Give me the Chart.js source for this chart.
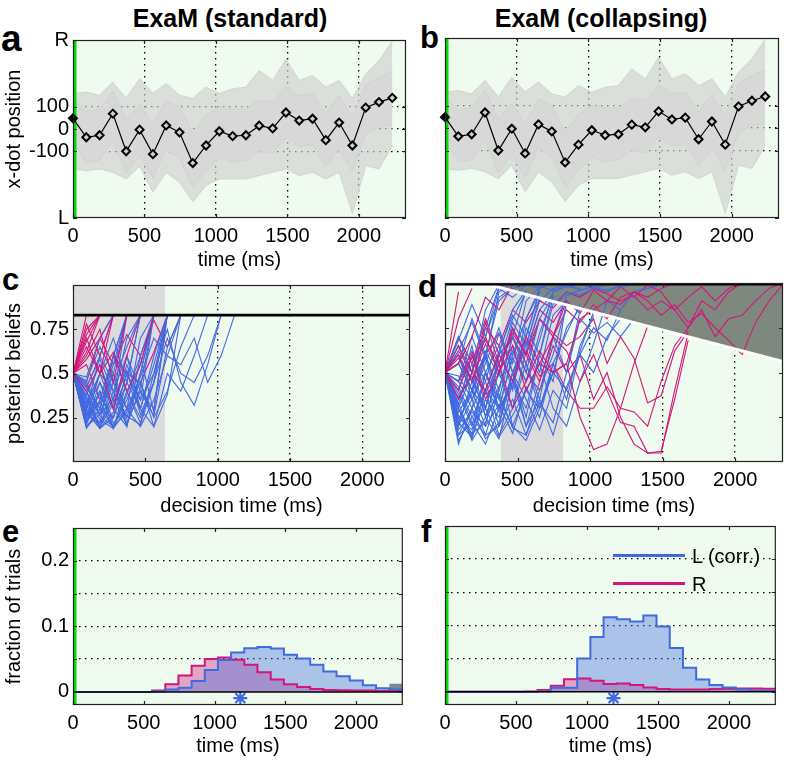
<!DOCTYPE html>
<html>
<head>
<meta charset="utf-8">
<script src="https://cdn.jsdelivr.net/npm/chart.js@4.4.1/dist/chart.umd.min.js"></script>
<style>
  body { margin: 0; background: #fff; width: 787px; height: 764px; position: relative; overflow: hidden;
         font-family: "Liberation Sans", Arial, sans-serif; color: #000; }
  canvas { position: absolute; }
  .ttl { position: absolute; width: 320px; text-align: center; font-weight: bold; font-size: 25px; line-height: 30px; }
  .lab { position: absolute; font-weight: bold; font-size: 31px; line-height: 32px; }
  .leg { position: absolute; font-size: 20px; line-height: 22px; }
  .legline { position: absolute; width: 72px; height: 0; border-top: 3px solid; }
</style>
</head>
<body>
<div class="ttl" style="left:70px;top:3px">ExaM (standard)</div>
<div class="ttl" style="left:441px;top:3px">ExaM (collapsing)</div>
<div class="lab" style="left:1px;top:20px;font-size:37px;line-height:37px">a</div>
<div class="lab" style="left:420px;top:22px">b</div>
<div class="lab" style="left:2px;top:264px">c</div>
<div class="lab" style="left:418px;top:271px">d</div>
<div class="lab" style="left:2px;top:516px">e</div>
<div class="lab" style="left:421px;top:516px">f</div>

<canvas id="ca" width="412" height="252" style="left:0;top:24px"></canvas>
<canvas id="cb" width="413" height="252" style="left:372px;top:24px"></canvas>
<canvas id="cc" width="412" height="253" style="left:0;top:269px"></canvas>
<canvas id="cd" width="413" height="253" style="left:372px;top:269px"></canvas>
<canvas id="ce" width="412" height="250" style="left:0;top:512px"></canvas>
<canvas id="cf" width="413" height="250" style="left:372px;top:512px"></canvas>

<div class="legline" style="left:613px;top:554px;border-color:#4169e1"></div>
<div class="leg" style="left:692px;top:545px">L (corr.)</div>
<div class="legline" style="left:613px;top:582px;border-color:#d4157a"></div>
<div class="leg" style="left:692px;top:573px">R</div>

<script>
// time grid (ms), one sample per frame
var TIMES = [0, 93, 186, 279, 372, 466, 559, 652, 745, 838, 931, 1024, 1117, 1210, 1303,
             1397, 1490, 1583, 1676, 1769, 1862, 1955, 2048, 2141, 2234, 2327];
var X_MAX = 2330;
var X_TICKS = [0, 500, 1000, 1500, 2000];

// panels a/b: x-dot position of the example trial and the spread of all trials
var MEAN_X = [48, -37, -28, 69, -100, -3, -113, 16, -15, -153, -74, -10, -32, -28, 15, 3, 74, 38, 46, -50, 29, -74, 96, 121, 140];
var OUTER_UP = [159, 166, 151, 210, 137, 225, 159, 203, 151, 137, 188, 159, 181, 188, 262, 218, 313, 218, 240, 188, 218, 137, 247, 306, 394];
var OUTER_LO = [-179, -187, -179, -194, -224, -165, -282, -194, -238, -326, -253, -224, -224, -224, -209, -194, -179, -209, -194, -224, -194, -378, -165, -179, -76];
var CORE_UP = [140, 80, 90, 170, 40, 110, 20, 130, 100, -20, 60, 100, 90, 90, 130, 120, 190, 150, 160, 70, 150, 50, 200, 230, 260];
var CORE_LO = [-60, -150, -140, -50, -200, -120, -220, -90, -130, -260, -190, -130, -150, -140, -100, -110, -40, -80, -70, -170, -90, -190, -20, 10, 20];
var A_YTICKS = [-400, -100, 0, 100, 400];

// panel c: standard bound
var BOUND_C = 0.83;
var GRAY_C = [0, 636];
var C_BLUE = [
  [0.5, 0.3, 0.22, 0.35, 0.83],
  [0.5, 0.25, 0.4, 0.19, 0.45, 0.83],
  [0.5, 0.42, 0.6, 0.83],
  [0.5, 0.2, 0.3, 0.25, 0.5, 0.35, 0.83],
  [0.5, 0.35, 0.19, 0.28, 0.6, 0.4, 0.3, 0.83],
  [0.5, 0.45, 0.3, 0.55, 0.83],
  [0.5, 0.22, 0.45, 0.3, 0.2, 0.5, 0.83],
  [0.5, 0.38, 0.55, 0.35, 0.7, 0.83],
  [0.5, 0.28, 0.19, 0.4, 0.26, 0.21, 0.45, 0.83],
  [0.5, 0.33, 0.5, 0.7, 0.45, 0.83],
  [0.5, 0.4, 0.26, 0.2, 0.38, 0.6, 0.28, 0.83],
  [0.5, 0.24, 0.35, 0.6, 0.83],
  [0.5, 0.3, 0.45, 0.22, 0.3, 0.2, 0.35, 0.6, 0.83],
  [0.5, 0.46, 0.65, 0.5, 0.83],
  [0.5, 0.2, 0.27, 0.5, 0.3, 0.7, 0.83],
  [0.5, 0.36, 0.24, 0.19, 0.3, 0.45, 0.25, 0.4, 0.65, 0.83],
  [0.5, 0.3, 0.5, 0.3, 0.55, 0.35, 0.5, 0.75, 0.45, 0.32, 0.55, 0.83],
  [0.5, 0.42, 0.3, 0.6, 0.4, 0.25, 0.45, 0.7, 0.5, 0.45, 0.6, 0.83],
  [0.5, 0.27, 0.38, 0.25, 0.5, 0.3, 0.2, 0.5, 0.4, 0.6, 0.83],
  [0.5, 0.35, 0.2, 0.45, 0.65, 0.83],
  [0.5, 0.44, 0.27, 0.36, 0.21, 0.42, 0.83],
  [0.5, 0.25, 0.5, 0.4, 0.6, 0.3, 0.6, 0.83],
  [0.5, 0.32, 0.22, 0.6, 0.83],
  [0.5, 0.48, 0.7, 0.83],
  [0.5, 0.3, 0.6, 0.45, 0.3, 0.48, 0.7, 0.6, 0.55, 0.7, 0.45, 0.6, 0.83],
  [0.5, 0.21, 0.4, 0.2, 0.35, 0.55, 0.83],
  [0.5, 0.37, 0.27, 0.46, 0.2, 0.6, 0.83],
  [0.5, 0.29, 0.2, 0.33, 0.52, 0.27, 0.45, 0.83],
  [0.5, 0.43, 0.58, 0.4, 0.25, 0.5, 0.83],
  [0.5, 0.26, 0.34, 0.19, 0.4, 0.22, 0.5, 0.83],
  [0.5, 0.19, 0.3, 0.2, 0.28, 0.45, 0.2, 0.38, 0.83],
  [0.5, 0.4, 0.19, 0.25, 0.45, 0.3, 0.55, 0.83],
  [0.5, 0.23, 0.33, 0.5, 0.22, 0.4, 0.26, 0.65, 0.83]
];
var C_RED = [
  [0.5, 0.83],
  [0.5, 0.72, 0.83],
  [0.5, 0.65, 0.5, 0.83],
  [0.5, 0.78, 0.6, 0.83],
  [0.5, 0.6, 0.75, 0.45, 0.83],
  [0.5, 0.4, 0.55, 0.3, 0.6, 0.83],
  [0.5, 0.7, 0.5, 0.62, 0.4, 0.55, 0.83],
  [0.5, 0.55, 0.35, 0.6, 0.5, 0.45, 0.62, 0.83],
  [0.5, 0.68, 0.83],
  [0.5, 0.45, 0.7, 0.55, 0.72, 0.6, 0.8, 0.65, 0.83],
  [0.5, 0.62, 0.83],
  [0.5, 0.58, 0.7, 0.83],
  [0.5, 0.75, 0.83]
];

// panel d: collapsing bound
var BOUND_D_T = [0, 2330];
var BOUND_D_Y = [1.055, 0.561];
var GRAY_D = [383, 814];
var D_BLUE = [
  [0.5, 0.2, 0.35, 0.15, 0.4, 0.7, 0.96],
  [0.5, 0.3, 0.12, 0.25, 0.5, 0.3, 0.62, 0.85, 0.94],
  [0.5, 0.6, 0.4, 0.75, 0.98],
  [0.5, 0.15, 0.3, 0.45, 0.2, 0.35, 0.15, 0.4, 0.6, 0.88],
  [0.5, 0.4, 0.65, 0.3, 0.55, 0.8, 0.95],
  [0.5, 0.25, 0.18, 0.4, 0.15, 0.3, 0.55, 0.35, 0.7, 0.5, 0.85],
  [0.5, 0.7, 0.5, 0.85, 0.99],
  [0.5, 0.35, 0.55, 0.25, 0.13, 0.45, 0.3, 0.6, 0.92],
  [0.5, 0.18, 0.28, 0.2, 0.6, 0.45, 0.8, 0.95],
  [0.5, 0.45, 0.3, 0.6, 0.4, 0.7, 0.55, 0.3, 0.5, 0.75, 0.86],
  [0.5, 0.3, 0.5, 0.7, 0.92, 0.97, 0.99, 0.97, 1.0],
  [0.5, 0.22, 0.14, 0.35, 0.25, 0.5, 0.2, 0.45, 0.7, 0.93, 0.96, 0.98, 0.95, 0.99],
  [0.5, 0.55, 0.8, 0.6, 0.9, 0.97],
  [0.5, 0.28, 0.4, 0.2, 0.32, 0.16, 0.42, 0.25, 0.55, 0.35, 0.65, 0.82],
  [0.5, 0.38, 0.2, 0.5, 0.65, 0.4, 0.75, 0.6, 0.88, 0.95, 0.93, 0.97, 0.99],
  [0.5, 0.65, 0.45, 0.3, 0.6, 0.85, 0.96],
  [0.5, 0.2, 0.45, 0.6, 0.35, 0.2, 0.12, 0.3, 0.5, 0.4, 0.6, 0.5, 0.7, 0.8],
  [0.5, 0.42, 0.25, 0.15, 0.2, 0.5, 0.35, 0.18, 0.4, 0.3, 0.62, 0.84],
  [0.5, 0.32, 0.6, 0.45, 0.72, 0.55, 0.9, 0.98, 0.96, 0.98, 0.99, 0.97, 0.96, 0.98, 0.99, 1.0],
  [0.5, 0.26, 0.16, 0.22, 0.42, 0.62, 0.45, 0.72, 0.93],
  [0.5, 0.48, 0.35, 0.5, 0.28, 0.45, 0.2, 0.35, 0.15, 0.42, 0.6, 0.75, 0.68, 0.85],
  [0.5, 0.6, 0.35, 0.55, 0.75, 0.5, 0.7, 0.95],
  [0.5, 0.12, 0.25, 0.4, 0.3, 0.6, 0.8, 0.97],
  [0.5, 0.36, 0.48, 0.26, 0.38, 0.19, 0.15, 0.33, 0.22, 0.5, 0.8, 0.72, 0.78, 0.7, 0.8],
  [0.5, 0.55, 0.4, 0.62, 0.48, 0.78, 0.65, 0.9, 0.97, 0.99, 0.96, 0.98, 1.0],
  [0.5, 0.24, 0.38, 0.58, 0.3, 0.42, 0.68, 0.5, 0.82, 0.9],
  [0.5, 0.4, 0.22, 0.3, 0.14, 0.26, 0.4, 0.55, 0.3, 0.2, 0.45, 0.66, 0.9, 0.85, 0.95, 0.97, 0.99],
  [0.5, 0.62, 0.78, 0.58, 0.95, 1.0],
  [0.5, 0.3, 0.15, 0.5, 0.35, 0.65, 0.5, 0.8, 0.93],
  [0.5, 0.22, 0.4, 0.3, 0.55, 0.2, 0.4, 0.3, 0.55, 0.72, 0.88],
  [0.5, 0.45, 0.7, 0.5, 0.3, 0.58, 0.45, 0.68, 0.95, 0.98, 0.97],
  [0.5, 0.15, 0.22, 0.1, 0.3, 0.45, 0.65, 0.92],
  [0.5, 0.1, 0.3, 0.13, 0.22, 0.5, 0.25, 0.6, 0.45, 0.9],
  [0.5, 0.68, 0.88, 0.7, 0.97, 0.92, 0.99],
  [0.5, 0.33, 0.13, 0.4, 0.62, 0.82, 0.7, 0.96]
];
var D_RED = [
  [0.5, 0.95],
  [0.5, 0.8, 0.97],
  [0.5, 0.55, 0.7, 0.92, 0.85, 0.99],
  [0.5, 0.4, 0.6, 0.35, 0.5, 0.75, 0.6, 0.45, 0.7, 0.9],
  [0.5, 0.65, 0.5, 0.78, 0.55, 0.3, 0.45, 0.62, 0.5, 0.55, 0.8, 0.85, 0.9, 0.88, 0.95, 0.92, 0.97, 1.0],
  [0.5, 0.35, 0.5, 0.4, 0.6, 0.45, 0.7, 0.55, 0.5, 0.55, 0.25, 0.07, 0.1, 0.3, 0.55, 0.76],
  [0.5, 0.6, 0.45, 0.7, 0.5, 0.65, 0.4, 0.55, 0.7, 0.62, 0.45, 0.6, 0.4, 0.22, 0.2, 0.05, 0.06, 0.35, 0.68],
  [0.5, 0.45, 0.62, 0.38, 0.55, 0.7, 0.5, 0.4, 0.65, 0.5, 0.6, 0.35, 0.5, 0.25, 0.1, 0.05, 0.05, 0.4, 0.72],
  [0.5, 0.55, 0.4, 0.6, 0.72, 0.5, 0.62, 0.48, 0.55, 0.4, 0.3, 0.3, 0.42, 0.3, 0.28, 0.2, 0.45, 0.65, 0.75, 0.9, 0.85, 0.95, 1.0],
  [0.5, 0.7, 0.55, 0.8, 0.6, 0.7, 0.55, 0.8, 0.72, 0.65, 0.7, 0.8, 0.55, 0.7, 0.58, 0.33, 0.37, 0.62, 0.73],
  [0.5, 0.62, 0.5, 0.75, 0.65, 0.85, 0.78, 0.9, 0.86, 0.95, 0.92, 0.97, 0.94, 0.9, 0.93, 0.85, 0.9, 0.85, 0.75, 0.85, 0.7, 0.8, 0.82, 0.9, 0.97, 1.0],
  [0.5, 0.45, 0.58, 0.68, 0.55, 0.72, 0.6, 0.8, 0.7, 0.85, 0.78, 0.88, 0.8, 0.92, 0.95, 0.9, 0.82, 0.88, 0.78, 0.83, 0.75, 0.68, 0.6, 0.78, 0.9, 0.99],
  [0.5, 0.58, 0.45, 0.66, 0.5, 0.74, 0.6, 0.85, 0.78, 0.9, 0.83, 0.96, 0.9, 0.98, 0.92, 0.99, 0.95, 0.85, 0.92, 0.98, 0.9, 0.97, 1.0]
];

// panels e/f: decision-time histograms, one value per time bin (bin edges = TIMES)
var E_BLUE = [0, 0, 0, 0, 0, 0, 0.001, 0.0035, 0.0065, 0.0165, 0.0335, 0.0485, 0.06, 0.0665, 0.0685, 0.066, 0.0565, 0.051, 0.0415, 0.031, 0.024, 0.0175, 0.01, 0.0055, 0.0035];
var E_RED = [0, 0, 0, 0, 0, 0, 0.002, 0.0115, 0.025, 0.04, 0.05, 0.0525, 0.049, 0.0415, 0.03, 0.019, 0.0115, 0.0075, 0.0045, 0.003, 0.0025, 0.002, 0.002, 0.0015, 0.0015];
var E_TIMEOUT_T = [2234, 2327];
var E_TIMEOUT_Y = 0.0125;
var F_BLUE = [0, 0, 0, 0, 0, 0, 0, 0.0005, 0.006, 0.006, 0.05, 0.0825, 0.1125, 0.1095, 0.106, 0.115, 0.0985, 0.066, 0.036, 0.0185, 0.01, 0.0065, 0.0035, 0.002, 0.0015];
var F_RED = [0, 0, 0, 0, 0, 0, 0.0005, 0.0025, 0.009, 0.019, 0.02, 0.0165, 0.0115, 0.0125, 0.01, 0.0065, 0.004, 0.0035, 0.0035, 0.0035, 0.004, 0.0045, 0.005, 0.005, 0.0045];
var STAR_E = { t: 1182, y: -0.0095 };
var STAR_F = { t: 1187, y: -0.0095 };
var E_YTICKS = [0, 0.05, 0.1, 0.15, 0.2];

var BLUE = '#4169e1', RED = '#d4157a';
var DOTS = [1.5, 4.5];

Chart.defaults.font.family = '"Liberation Sans", Arial, sans-serif';
Chart.defaults.font.size = 20;
Chart.defaults.color = '#000';

function pts(vals) {
  return vals.map(function (y, i) { return { x: TIMES[i], y: y }; });
}
function histPts(vals) {
  var p = pts(vals);
  p.push({ x: TIMES[vals.length], y: vals[vals.length - 1] });
  return p;
}
function flat(xs, y) {
  return xs.map(function (x) { return { x: x, y: y }; });
}
function line(data, color, width, extra) {
  var d = { data: data, borderColor: color, borderWidth: width, pointRadius: 0, fill: false, tension: 0 };
  for (var k in extra) d[k] = extra[k];
  return d;
}

// light green plot background + black box with inward ticks
var framePlugin = {
  id: 'frame',
  beforeDraw: function (chart) {
    var a = chart.chartArea, c = chart.ctx;
    c.save();
    c.fillStyle = '#eefbee';
    c.fillRect(a.left, a.top, a.right - a.left, a.bottom - a.top);
    c.restore();
  },
  afterDraw: function (chart) {
    var a = chart.chartArea, c = chart.ctx, sx = chart.scales.x, sy = chart.scales.y;
    c.save();
    c.strokeStyle = '#222';
    c.lineWidth = 1.2;
    c.strokeRect(a.left + 0.5, a.top + 0.5, a.right - a.left - 1, a.bottom - a.top - 1);
    c.beginPath();
    sx.ticks.forEach(function (t) {
      var p = Math.round(sx.getPixelForValue(t.value)) + 0.5;
      c.moveTo(p, a.bottom); c.lineTo(p, a.bottom - 4);
      c.moveTo(p, a.top); c.lineTo(p, a.top + 4);
    });
    sy.ticks.forEach(function (t) {
      var p = Math.round(sy.getPixelForValue(t.value)) + 0.5;
      c.moveTo(a.left, p); c.lineTo(a.left + 4, p);
      c.moveTo(a.right, p); c.lineTo(a.right - 4, p);
    });
    c.stroke();
    c.restore();
  }
};

function panel(id, o) {
  return new Chart(document.getElementById(id), {
    type: 'line',
    data: { datasets: o.datasets },
    options: {
      responsive: false,
      animation: false,
      events: [],
      layout: { padding: { top: 14, right: 2, left: 0, bottom: 0 } },
      plugins: {
        legend: { display: false },
        tooltip: { enabled: false },
        filler: { drawTime: 'beforeDatasetsDraw' }
      },
      scales: {
        x: {
          type: 'linear', min: 0, max: X_MAX, z: 1,
          afterBuildTicks: function (s) { s.ticks = X_TICKS.map(function (v) { return { value: v }; }); },
          afterFit: function (s) { s.height = o.xh; },
          ticks: { padding: 6, maxRotation: 0, autoSkip: false, font: { size: 20 },
                   callback: function (v) { return String(v); } },
          grid: {
            display: o.xGrid, drawTicks: false, lineWidth: 1.3,
            color: function (c) { return c.tick && c.tick.value === 0 ? 'rgba(0,0,0,0)' : '#000'; }
          },
          border: { display: false, dash: DOTS },
          title: { display: true, text: o.xTitle, font: { size: 20 }, padding: { top: 4, bottom: 4 } }
        },
        y: {
          type: 'linear', min: o.yMin, max: o.yMax, z: 1,
          afterBuildTicks: function (s) { s.ticks = o.yTicks.map(function (v) { return { value: v }; }); },
          afterFit: function (s) { s.width = 73; },
          ticks: { display: o.yLabels, padding: 4, font: { size: 20 }, callback: o.yFmt },
          grid: {
            drawTicks: false, lineWidth: 1.3,
            color: function (c) { return c.tick && o.yGrid(c.tick.value) ? '#000' : 'rgba(0,0,0,0)'; }
          },
          border: { display: false, dash: DOTS },
          title: { display: !!o.yTitle, text: o.yTitle || '', font: { size: 20 }, padding: { top: 2, bottom: 4 } }
        }
      }
    },
    plugins: [framePlugin]
  });
}

// ---- panels a, b
function dotDatasets() {
  return [
    line(pts(MEAN_X), '#000', 1.2, {
      pointRadius: 4, pointStyle: 'rectRot', pointBorderWidth: 2, pointBorderColor: '#000',
      pointBackgroundColor: function (c) { return c.dataIndex === 0 ? '#000' : '#cfcfcf'; }, clip: false
    }),
    line([{ x: 0, y: -400 }, { x: 0, y: 400 }], '#00e000', 7, { clip: 0 }),
    line(pts(CORE_UP), '#d2d2d2', 1, { fill: '+1', backgroundColor: '#d8d8d8' }),
    line(pts(CORE_LO), '#d2d2d2', 1),
    line(pts(OUTER_UP), '#d6d6d6', 1.2, { fill: '+1', backgroundColor: 'rgba(205,205,205,0.62)' }),
    line(pts(OUTER_LO), '#d6d6d6', 1.2)
  ];
}
var aOpts = function (labels) {
  return {
    xh: 58, xGrid: true, xTitle: 'time (ms)',
    yMin: -400, yMax: 400, yTicks: A_YTICKS, yLabels: labels,
    yFmt: function (v) { return v === 400 ? 'R' : v === -400 ? 'L' : String(v); },
    yGrid: function (v) { return Math.abs(v) <= 100; },
    yTitle: labels ? 'x-dot position' : null
  };
};
var oa = aOpts(true); oa.datasets = dotDatasets(); panel('ca', oa);
var ob = aOpts(false); ob.datasets = dotDatasets(); panel('cb', ob);

// ---- panels c, d
function trajSets(blue, red) {
  var out = [];
  var half = Math.ceil(red.length / 2);
  red.slice(0, half).forEach(function (r) { out.push(line(pts(r), RED, 1.1)); });
  blue.forEach(function (b) { out.push(line(pts(b), BLUE, 1.1)); });
  red.slice(half).forEach(function (r) { out.push(line(pts(r), RED, 1.1)); });
  return out;
}
var cdOpts = function (labels) {
  return {
    xh: 60, xGrid: true, xTitle: 'decision time (ms)',
    yMin: 0, yMax: 1, yTicks: [0.25, 0.5, 0.75], yLabels: labels,
    yFmt: function (v) { return String(v); },
    yGrid: function () { return false; },
    yTitle: labels ? 'posterior beliefs' : null
  };
};
var oc = cdOpts(true);
oc.datasets = [line(flat([0, X_MAX], BOUND_C), '#000', 2.7)]
  .concat(trajSets(C_BLUE, C_RED))
  .concat([line(flat(GRAY_C, 1), 'rgba(0,0,0,0)', 0, { fill: 'start', backgroundColor: '#dcdcdc' })]);
panel('cc', oc);

var od = cdOpts(false);
var boundD = BOUND_D_T.map(function (t, i) { return { x: t, y: BOUND_D_Y[i] }; });
od.datasets = [
  line(flat([0, X_MAX], 1), '#000', 5, { clip: 0 }),
  line(boundD, '#fff', 3)
].concat(trajSets(D_BLUE, D_RED)).concat([
  line(boundD, 'rgba(0,0,0,0)', 0, { fill: 'end', backgroundColor: '#7f887f' }),
  line(flat(GRAY_D, 1), 'rgba(0,0,0,0)', 0, { fill: 'start', backgroundColor: '#dcdcdc' })
]);
panel('cd', od);

// ---- panels e, f
function histSets(blue, red, star, timeout) {
  var s = [
    line(flat([0, X_MAX], 0), '#000', 1.5),
    line([{ x: 0, y: -0.02 }, { x: 0, y: 0.25 }], '#00e000', 7, { clip: 0 }),
    { type: 'scatter', data: [{ x: star.t, y: star.y }], pointStyle: 'star', pointRadius: 7,
      borderColor: BLUE, pointBorderWidth: 2.2, borderWidth: 2.2, clip: false },
    line(histPts(blue), BLUE, 2, { stepped: 'before', fill: 'origin', backgroundColor: 'rgba(65,105,225,0.38)' }),
    line(histPts(red), RED, 2, { stepped: 'before', fill: 'origin', backgroundColor: 'rgba(205,30,130,0.38)' })
  ];
  if (timeout) {
    s.push(line(flat(E_TIMEOUT_T, E_TIMEOUT_Y), 'rgba(0,0,0,0)', 0,
      { stepped: 'before', fill: 'origin', backgroundColor: '#7b8a96' }));
  }
  return s;
}
var efOpts = function (labels) {
  return {
    xh: 57, xGrid: false, xTitle: 'time (ms)',
    yMin: -0.02, yMax: 0.25, yTicks: E_YTICKS, yLabels: labels,
    yFmt: function (v) { return (v === 0 || v === 0.1 || v === 0.2) ? String(v) : ''; },
    yGrid: function (v) { return v > 0; },
    yTitle: labels ? 'fraction of trials' : null
  };
};
var oe = efOpts(true);
oe.datasets = histSets(E_BLUE, E_RED, STAR_E, true);
panel('ce', oe);
var of = efOpts(false);
of.datasets = histSets(F_BLUE, F_RED, STAR_F, false);
panel('cf', of);
</script>
</body>
</html>
